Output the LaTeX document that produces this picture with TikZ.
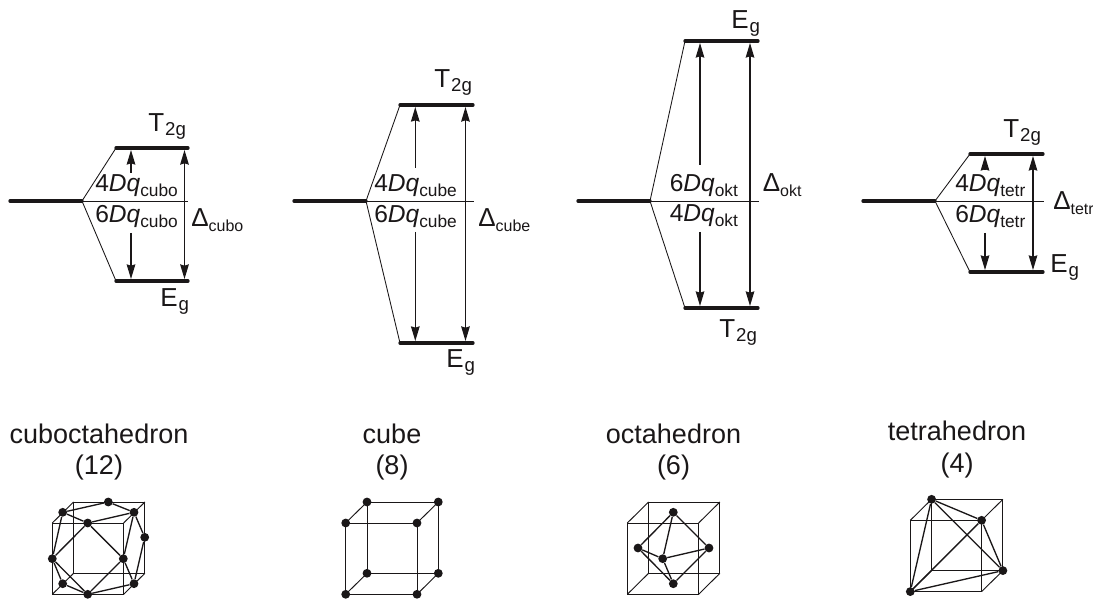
\documentclass[tikz,border=0pt]{standalone}
\usepackage{fontspec}
\setmainfont{Liberation Sans}
\usetikzlibrary{arrows.meta}
\definecolor{ink}{HTML}{1A1718}
\newcommand{\DQ}[2]{\fontsize{18.4}{20}\selectfont #1\textit{Dq}\raisebox{-3.6pt}{\fontsize{13}{13}\selectfont #2}}
\newcommand{\SYM}[2]{\fontsize{19.5}{22}\selectfont #1\kern0.8pt\raisebox{-3pt}{\fontsize{14}{14}\selectfont #2}}
\newcommand{\DEL}[1]{\fontsize{19.5}{22}\selectfont Δ\raisebox{-3.6pt}{\fontsize{12}{12}\selectfont #1}}
\tikzset{
  lvl/.style={draw=ink,line width=2.5pt,line cap=round},
  thinl/.style={draw=ink,line width=0.65pt},
  arr/.style={draw=ink,line width=0.85pt,{Stealth[length=11pt,width=6.5pt,inset=1pt]}-{Stealth[length=11pt,width=6.5pt,inset=1pt]}},
  arrone/.style={draw=ink,line width=0.85pt,-{Stealth[length=11pt,width=6.5pt,inset=1pt]}},
  lab/.style={anchor=base west,inner sep=0pt,text=ink},
  title/.style={align=center,inner sep=0pt,text=ink,font=\fontsize{20.25}{23.5}\selectfont},
  cubeline/.style={draw=ink,line width=0.7pt},
  bond/.style={draw=ink,line width=1pt},
  atom/.style={circle,fill=ink,inner sep=0pt,minimum size=6.6pt},
}
% id, x0, x1 (branch), x2, x3 (upper level), xthin, xouter, ytop, ybot
\newcommand{\levels}[9]{%
  \coordinate (#1a) at (#2,201);
  \coordinate (#1b) at (#3,201);
  \coordinate (#1c) at (#4,#8);
  \coordinate (#1d) at (#5,#8);
  \coordinate (#1e) at (#4,#9);
  \coordinate (#1f) at (#5,#9);
  \coordinate (#1t) at (#6,201);
  \coordinate (#1oa) at (#7,#8);
  \coordinate (#1ob) at (#7,#9);
  \draw[lvl] (#1a) -- (#1b);
  \draw[lvl] (#1c) -- (#1d);
  \draw[lvl] (#1e) -- (#1f);
  \draw[thinl] (#1b) -- (#1c);
  \draw[thinl] (#1b) -- (#1e);
  \draw[thinl] (#1b) -- (#1t);
  \draw[arr,shorten <=1.5pt,shorten >=1.5pt] (#1oa) -- (#1ob);
}
% id, x, ytop, yfromUp, yfromDown, ybot
\newcommand{\inner}[6]{%
  \coordinate (#1u0) at (#2,#4);
  \coordinate (#1u1) at (#2,#3);
  \coordinate (#1d0) at (#2,#5);
  \coordinate (#1d1) at (#2,#6);
  \draw[arrone,shorten >=1.5pt] (#1u0) -- (#1u1);
  \draw[arrone,shorten >=1.5pt] (#1d0) -- (#1d1);
}
% id, left, top of the front face
\newcommand{\cube}[3]{%
  \coordinate (#1p1) at (#2,#3);
  \coordinate (#1p2) at ({#2+71.3},#3);
  \coordinate (#1p3) at ({#2+71.3},{#3+71.3});
  \coordinate (#1p4) at (#2,{#3+71.3});
  \coordinate (#1q1) at ({#2+21.3},{#3-21});
  \coordinate (#1q2) at ({#2+92.6},{#3-21});
  \coordinate (#1q3) at ({#2+92.6},{#3+50.3});
  \coordinate (#1q4) at ({#2+21.3},{#3+50.3});
  \draw[cubeline] (#1q1) -- (#1q2) -- (#1q3) -- (#1q4) -- cycle;
  \draw[cubeline] (#1p1) -- (#1p2) -- (#1p3) -- (#1p4) -- cycle;
  \draw[cubeline] (#1p1) -- (#1q1);
  \draw[cubeline] (#1p2) -- (#1q2);
  \draw[cubeline] (#1p3) -- (#1q3);
  \draw[cubeline] (#1p4) -- (#1q4);
}
\begin{document}
\begin{tikzpicture}[x=0.75pt,y=-0.75pt]
\useasboundingbox (0,0) rectangle (1093,599);

% level diagrams
\levels{A}{10}{82}{116}{188}{188}{184.5}{148}{281}
\inner{A}{131}{148}{173}{233}{281}
\levels{B}{294}{366}{400}{473}{474}{465.5}{105}{343}
\inner{B}{415.3}{105}{168}{232}{343}
\levels{C}{578}{650}{685}{758}{759}{750}{41}{308}
\inner{C}{700}{41}{165}{232}{308}
\levels{D}{863}{935}{970}{1043}{1044}{1033}{154}{272}
\inner{D}{985}{154}{170}{233}{272}

\node[lab] (la1) at (95,192) {\DQ{4}{cubo}};
\node[lab] (la2) at (95,222.5) {\DQ{6}{cubo}};
\node[lab] (la3) at (191,227) {\DEL{cubo}};
\node[lab] (la4) at (148,132) {\SYM{T}{2g}};
\node[lab] (la5) at (160,306) {\SYM{E}{g}};

\node[lab] (lb1) at (374,192) {\DQ{4}{cube}};
\node[lab] (lb2) at (374,222.5) {\DQ{6}{cube}};
\node[lab] (lb3) at (478,227) {\DEL{cube}};
\node[lab] (lb4) at (434,88) {\SYM{T}{2g}};
\node[lab] (lb5) at (446,367.7) {\SYM{E}{g}};

\node[lab] (lc1) at (669.5,192) {\DQ{6}{okt}};
\node[lab] (lc2) at (669.5,222) {\DQ{4}{okt}};
\node[lab] (lc3) at (762.5,192) {\DEL{okt}};
\node[lab] (lc4) at (719,337) {\SYM{T}{2g}};
\node[lab] (lc5) at (731,28.3) {\SYM{E}{g}};

\node[lab] (ld1) at (955,192) {\DQ{4}{tetr}};
\node[lab] (ld2) at (955,222.5) {\DQ{6}{tetr}};
\node[lab] (ld3) at (1053,210) {\DEL{tetr}};
\node[lab] (ld4) at (1003,137.5) {\SYM{T}{2g}};
\node[lab] (ld5) at (1050,272.7) {\SYM{E}{g}};

% titles
\node[title] (ta) at (99,451.7) {cuboctahedron\\(12)};
\node[title] (tb) at (392,451.7) {cube\\(8)};
\node[title] (tc) at (673.5,451.7) {octahedron\\(6)};
\node[title] (td) at (957,449.5) {tetrahedron\\(4)};

% cuboctahedron
\cube{E}{52.3}{523}
\node[atom] (e1) at (62.7,512.3) {};
\node[atom] (e2) at (108.3,502) {};
\node[atom] (e3) at (134,512.3) {};
\node[atom] (e4) at (144.7,537.3) {};
\node[atom] (e5) at (134,583.7) {};
\node[atom] (e6) at (87.7,594.3) {};
\node[atom] (e7) at (62.7,583.7) {};
\node[atom] (e8) at (52.3,558.7) {};
\node[atom] (e9) at (87.7,523) {};
\node[atom] (e10) at (123.3,558.7) {};
\draw[bond] (e1) -- (e2) -- (e3) -- (e9) -- (e1);
\draw[bond] (e9) -- (e8) -- (e6) -- (e10) -- (e9);
\draw[bond] (e8) -- (e1);
\draw[bond] (e10) -- (e3);
\draw[bond] (e3) -- (e4) -- (e5);
\draw[bond] (e10) -- (e5) -- (e6) -- (e7) -- (e8);

% cube
\cube{F}{345.7}{523}
\node[atom] at (Fp1) (f1) {};
\node[atom] at (Fp2) (f2) {};
\node[atom] at (Fp3) (f3) {};
\node[atom] at (Fp4) (f4) {};
\node[atom] at (Fq1) (f5) {};
\node[atom] at (Fq2) (f6) {};
\node[atom] at (Fq3) (f7) {};
\node[atom] at (Fq4) (f8) {};

% octahedron
\cube{G}{627.3}{523}
\node[atom] (g1) at (673.3,512.3) {};
\node[atom] (g2) at (638,548) {};
\node[atom] (g3) at (709,548) {};
\node[atom] (g4) at (662.7,558.7) {};
\node[atom] (g5) at (673.3,583.7) {};
\draw[bond] (g1) -- (g2) -- (g5) -- (g3) -- (g1);
\draw[bond] (g1) -- (g4) -- (g5);
\draw[bond] (g2) -- (g4) -- (g3);

% tetrahedron
\cube{H}{910.3}{520.3}
\node[atom] at (Hq1) (h1) {};
\node[atom] at (Hp2) (h2) {};
\node[atom] at (Hq3) (h3) {};
\node[atom] at (Hp4) (h4) {};
\draw[bond] (h1) -- (h2) -- (h3) -- (h4) -- (h1);
\draw[bond] (h1) -- (h3);
\draw[bond] (h2) -- (h4);
\end{tikzpicture}
\end{document}
